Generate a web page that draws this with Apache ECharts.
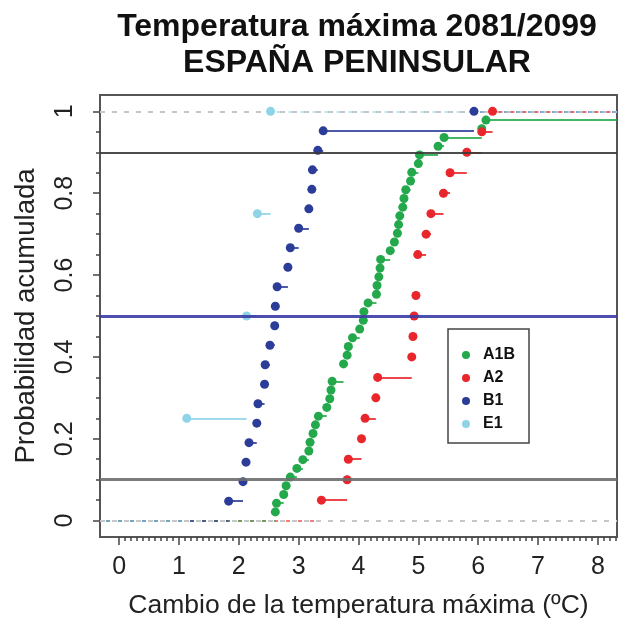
<!DOCTYPE html>
<html><head><meta charset="utf-8">
<script src="https://cdn.jsdelivr.net/npm/echarts@6/dist/echarts.min.js"></script>
<style>html,body{margin:0;padding:0;background:#fff}#c{width:622px;height:620px}</style>
</head><body><div id="c"></div>
<script>
// ---- data ----
const seriesNames = ['A1B', 'A2', 'B1', 'E1'];
const A1B = [2.61, 2.63, 2.75, 2.79, 2.86, 2.97, 3.07, 3.17, 3.19, 3.24, 3.28, 3.33, 3.47, 3.52, 3.54, 3.56,
             3.75, 3.75, 3.81, 3.83, 3.90, 4.02, 4.08, 4.09, 4.16, 4.30, 4.31, 4.34, 4.36, 4.37, 4.53, 4.60,
             4.65, 4.67, 4.69, 4.74, 4.76, 4.79, 4.87, 4.89, 5.00, 5.02, 5.33, 5.43, 6.06, 6.13, 8.60];
const A2 = [3.38, 3.81, 3.83, 4.05, 4.11, 4.29, 4.32, 4.89, 4.91, 4.93, 4.96, 4.99, 4.99, 5.13, 5.21, 5.42,
            5.53, 5.81, 6.06, 6.24];
const B1 = [1.83, 2.07, 2.12, 2.17, 2.30, 2.32, 2.43, 2.44, 2.52, 2.60, 2.61, 2.64, 2.82, 2.86, 3.00, 3.17,
            3.22, 3.23, 3.32, 3.41, 5.93];
const E1 = [1.13, 2.13, 2.31, 2.53];
const xTickLabels = [0, 1, 2, 3, 4, 5, 6, 7, 8];
const yTickValues = [0, 0.2, 0.4, 0.6, 0.8, 1];
const refLevels = [0.1, 0.5, 0.9];
const boundLevels = [0, 1];

const seriesValues = { A1B: A1B, A2: A2, B1: B1, E1: E1 };
const colors = { A1B: '#23a94b', A2: '#e8262c', B1: '#2c3c99', E1: '#8fd4e6' };
const refColors = ['#6e6e6e', '#3b3ba6', '#3a3a3a'];
const refWidths = [3, 3, 2];
const FONT = '"Liberation Sans", Arial, Helvetica, sans-serif';
const XMIN = -0.32, XMAX = 8.32, YMIN = -0.04, YMAX = 1.04;

function ecdf(vals) {
  const s = vals.slice().sort((a, b) => a - b);
  const n = s.length, pts = [];
  for (let i = 0; i < n; i++) {
    if (i < n - 1 && s[i + 1] === s[i]) continue;
    pts.push([s[i], (i + 1) / n]);
  }
  return pts;
}

const minorX = []; for (let k = 0; k <= 83; k++) minorX.push(+(k * 0.1).toFixed(2));
const minorY = []; for (let k = 0; k <= 20; k++) minorY.push(+(k * 0.05).toFixed(2));

const series = [];
// gray dashed lines at 0 and 1
series.push({
  type: 'lines', coordinateSystem: 'cartesian2d', polyline: false, silent: true, z: 1,
  lineStyle: { color: '#c6c6c6', width: 2, type: [5, 7], opacity: 1 },
  data: boundLevels.map(v => ({ coords: [[XMIN, v], [XMAX, v]] }))
});
// dashed colored extensions (left at 0, right at 1), longest first
const ext = seriesNames.map(nm => {
  const p = ecdf(seriesValues[nm]);
  const segs = [{ coords: [[XMIN, 0], [p[0][0], 0]] }];
  const last = p[p.length - 1];
  if (last[1] === 1 && last[0] < XMAX) segs.push({ coords: [[last[0], 1], [XMAX, 1]] });
  return { nm, first: p[0][0], segs };
}).sort((a, b) => b.first - a.first);
ext.forEach(e => series.push({
  type: 'lines', coordinateSystem: 'cartesian2d', polyline: false, silent: true, z: 1,
  lineStyle: { color: colors[e.nm], width: 2, type: [4, 8], dashOffset: 6, opacity: 0.6 },
  data: e.segs
}));
// step segments and points
seriesNames.forEach(nm => {
  const p = ecdf(seriesValues[nm]);
  const segs = [];
  for (let j = 0; j < p.length; j++) {
    if (p[j][0] >= XMAX || p[j][1] === 1) continue;
    const x2 = j + 1 < p.length ? Math.min(p[j + 1][0], XMAX) : XMAX;
    segs.push({ coords: [[p[j][0], p[j][1]], [x2, p[j][1]]] });
  }
  series.push({
    type: 'lines', coordinateSystem: 'cartesian2d', polyline: false, silent: true, z: 2,
    lineStyle: { color: colors[nm], width: 2, opacity: 0.85 }, data: segs
  });
});
seriesNames.forEach(nm => {
  const p = ecdf(seriesValues[nm]).filter(d => d[0] <= XMAX);
  series.push({
    type: 'scatter', name: nm, data: p, symbol: 'circle', symbolSize: 9, z: 3,
    itemStyle: { color: colors[nm], opacity: 1 }
  });
});
// reference lines
series.push({
  type: 'lines', coordinateSystem: 'cartesian2d', polyline: false, silent: true, z: 4,
  data: refLevels.map((v, i) => ({
    coords: [[XMIN, v], [XMAX, v]],
    lineStyle: { color: refColors[i], width: refWidths[i], opacity: 0.9 }
  }))
});

const tickLine = { color: '#444', width: 1.5 };
const noLine = { show: false, onZero: false };
const option = {
  animation: false,
  backgroundColor: '#fff',
  title: {
    text: 'Temperatura máxima 2081/2099\nESPAÑA PENINSULAR',
    left: 357, top: 9, textAlign: 'center', padding: 0,
    textStyle: { fontFamily: FONT, fontSize: 32, fontWeight: 'bold', color: '#111', lineHeight: 36 }
  },
  grid: { left: 100, top: 95, right: 5, bottom: 83, show: true, borderColor: '#555', borderWidth: 2,
          containLabel: false, outerBoundsMode: 'none' },
  legend: {
    data: seriesNames, orient: 'vertical', left: 448, top: 329,
    padding: [18, 14, 11, 14], itemWidth: 24, itemHeight: 8, itemGap: 7, icon: 'circle',
    borderColor: '#444', borderWidth: 1.5, backgroundColor: '#fff', selectedMode: false,
    textStyle: { fontFamily: FONT, fontSize: 16, fontWeight: 'bold', color: '#111' }
  },
  xAxis: [
    {
      type: 'value', min: XMIN, max: XMAX, position: 'bottom',
      axisLine: noLine, splitLine: { show: false },
      axisTick: { show: true, length: 8, lineStyle: tickLine, customValues: xTickLabels },
      axisLabel: { customValues: xTickLabels, fontFamily: FONT, fontSize: 25, color: '#222', margin: 18 },
      name: 'Cambio de la temperatura máxima (ºC)', nameLocation: 'middle', nameGap: 55,
      nameTextStyle: { fontFamily: FONT, fontSize: 26.5, color: '#222' }
    },
    {
      type: 'value', min: XMIN, max: XMAX, position: 'bottom',
      axisLine: noLine, splitLine: { show: false },
      axisTick: { show: true, length: 4, lineStyle: tickLine, customValues: minorX },
      axisLabel: { show: false }
    }
  ],
  yAxis: [
    {
      type: 'value', min: YMIN, max: YMAX, position: 'left',
      axisLine: noLine, splitLine: { show: false },
      axisTick: { show: true, length: 7, lineStyle: tickLine, customValues: yTickValues },
      axisLabel: { customValues: yTickValues, rotate: 90, fontFamily: FONT, fontSize: 25, color: '#222', margin: 22 },
      name: 'Probabilidad acumulada', nameLocation: 'middle', nameGap: 60,
      nameTextStyle: { fontFamily: FONT, fontSize: 27.5, color: '#222' }
    },
    {
      type: 'value', min: YMIN, max: YMAX, position: 'left',
      axisLine: noLine, splitLine: { show: false },
      axisTick: { show: true, length: 4, lineStyle: tickLine, customValues: minorY },
      axisLabel: { show: false }
    }
  ],
  series: series
};
const chart = echarts.init(document.getElementById('c'), null, { renderer: 'canvas' });
chart.setOption(option);
</script></body></html>
